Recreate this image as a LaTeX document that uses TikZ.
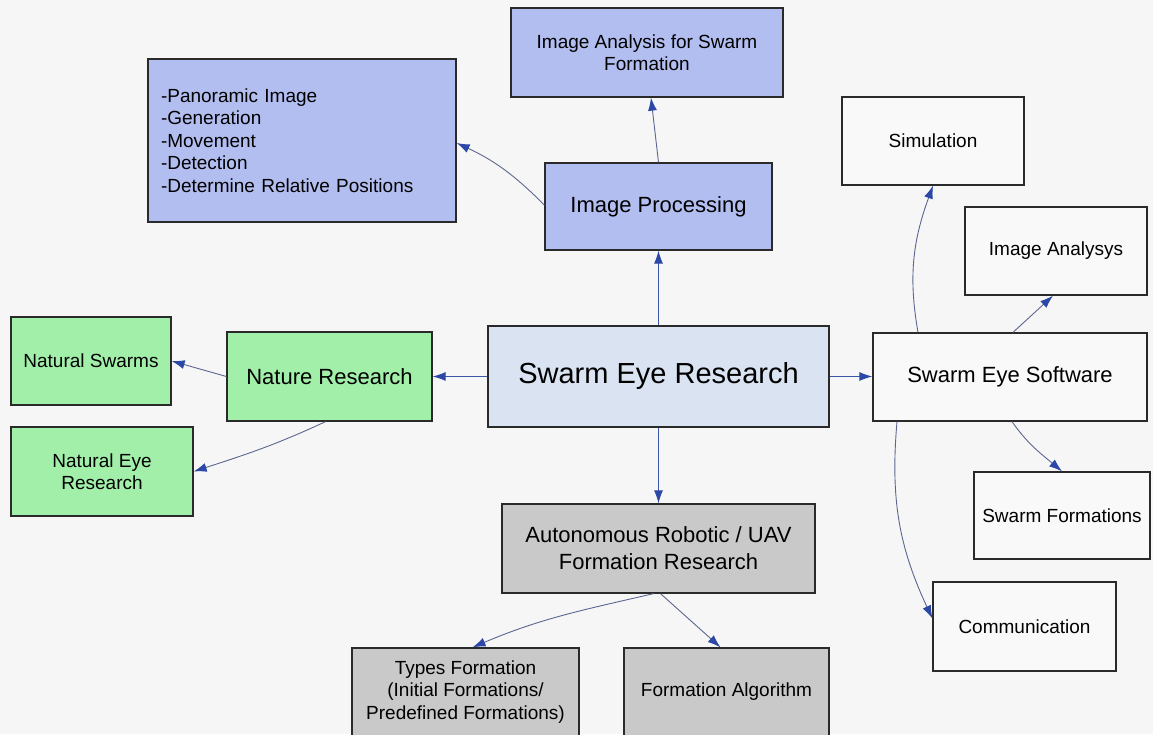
\documentclass[tikz,border=0pt]{standalone}
\usepackage{fontspec}
\setmainfont{Liberation Sans}
\usetikzlibrary{arrows.meta}
\definecolor{bgcol}{HTML}{F6F6F6}
\definecolor{bluefill}{HTML}{B3BEF0}
\definecolor{greenfill}{HTML}{A2EFAA}
\definecolor{greyfill}{HTML}{C9C9C9}
\definecolor{serfill}{HTML}{D9E3F1}
\definecolor{whitefill}{HTML}{F9F9F9}
\definecolor{bordercol}{HTML}{2A2A2A}
\definecolor{linecol}{HTML}{5C6690}
\definecolor{maincol}{HTML}{3A56A8}
\definecolor{headcol}{HTML}{2C47A6}
\tikzset{
  box/.style={draw=bordercol, line width=1.3pt, rectangle, align=center, text=black, inner sep=2pt},
  bigtxt/.style={font=\fontsize{22}{27}\selectfont},
  smalltxt/.style={font=\fontsize{19}{22.5}\selectfont},
  bluebox/.style={box, fill=bluefill},
  greenbox/.style={box, fill=greenfill},
  greybox/.style={box, fill=greyfill},
  whitebox/.style={box, fill=whitefill},
  conn/.style={draw=linecol, line width=0.9pt, -{Latex[length=13pt,width=9pt,color=headcol]}},
  mainconn/.style={draw=maincol, line width=1pt, -{Latex[length=13pt,width=9pt,color=headcol]}}
}
\begin{document}
\begin{tikzpicture}[x=1pt,y=1pt]
\path[use as bounding box] (0,0) rectangle (1153,734);
\clip (0,0) rectangle (1153,734);
\fill[bgcol] (0,0) rectangle (1153,734);

% nodes
\node[bluebox, smalltxt, minimum width=272pt, minimum height=89pt] (ia) at (647,681.5) {Image Analysis for Swarm\\Formation};
\node[bluebox, smalltxt, minimum height=163pt, text width=282pt, inner xsep=13pt, align=left] (pan) at (302,593.5)
  {-Panoramic Image\\-Generation\\-Movement\\-Detection\\-Determine Relative Positions};
\node[bluebox, bigtxt, minimum width=227pt, minimum height=87pt] (ip) at (658.5,527.5) {Image Processing};
\node[whitebox, smalltxt, minimum width=182pt, minimum height=88pt] (sim) at (933,593) {Simulation};
\node[whitebox, smalltxt, minimum width=182pt, minimum height=88pt] (ian) at (1056,483) {Image Analysys};
\node[greenbox, smalltxt, minimum width=160pt, minimum height=88pt] (ns) at (91,373) {Natural Swarms};
\node[greenbox, bigtxt, minimum width=205pt, minimum height=89pt] (nr) at (329.5,357.5) {Nature Research};
\node[box, fill=serfill, font=\fontsize{29}{34}\selectfont, minimum width=341pt, minimum height=101pt] (ser) at (658.5,357.5) {Swarm Eye Research};
\node[whitebox, bigtxt, minimum width=274pt, minimum height=88pt] (ses) at (1010,357) {Swarm Eye Software};
\node[greenbox, smalltxt, minimum width=182pt, minimum height=89pt] (ne) at (102,262.5) {Natural Eye\\Research};
\node[whitebox, smalltxt, minimum width=176pt, minimum height=87pt] (sf) at (1062,218.5) {Swarm Formations};
\node[greybox, bigtxt, minimum width=313pt, minimum height=89pt] (aut) at (658.5,185.5) {Autonomous Robotic / UAV\\Formation Research};
\node[whitebox, smalltxt, minimum width=183pt, minimum height=89pt] (com) at (1024.5,107.5) {Communication};
\node[greybox, smalltxt, minimum width=227pt, minimum height=88pt] (tf) at (465.5,42) {Types Formation\\(Initial Formations/\\Predefined Formations)};
\node[greybox, smalltxt, minimum width=205pt, minimum height=88pt] (fa) at (726.5,42) {Formation Algorithm};

% connectors from the centre
\draw[mainconn] (ser.north) -- (ip.south);
\draw[mainconn] (ser.west) -- (nr.east);
\draw[mainconn] (ser.east) -- (ses.west |- ser.east);
\draw[mainconn] (ser.south) -- (aut.north);

% image processing
\draw[conn] (ip.north) -- ([xshift=4pt]ia.south);
\draw[conn] ([yshift=1.5pt]ip.west) to[out=135,in=-25] ([yshift=-2.5pt]pan.east);

% nature research
\draw[conn] (nr.west) -- (ns.east);
\draw[conn] ([xshift=-4pt]nr.south) to[out=205,in=18] (ne.east);

% swarm eye software
\draw[conn] ([xshift=-92pt]ses.north) to[out=100,in=-110] (sim.south);
\draw[conn] ([xshift=3pt]ses.north) -- ([xshift=-3pt]ian.south);
\draw[conn] ([xshift=2pt]ses.south) to[out=-55,in=140] (sf.north);
\draw[conn] ([xshift=-113pt]ses.south) to[out=-95,in=115] ([yshift=8pt]com.west);

% autonomous
\draw[conn] ([xshift=-5pt]aut.south) to[out=193,in=23] ([xshift=7pt]tf.north);
\draw[conn] ([xshift=2pt]aut.south) -- ([xshift=-6pt]fa.north);
\end{tikzpicture}
\end{document}
